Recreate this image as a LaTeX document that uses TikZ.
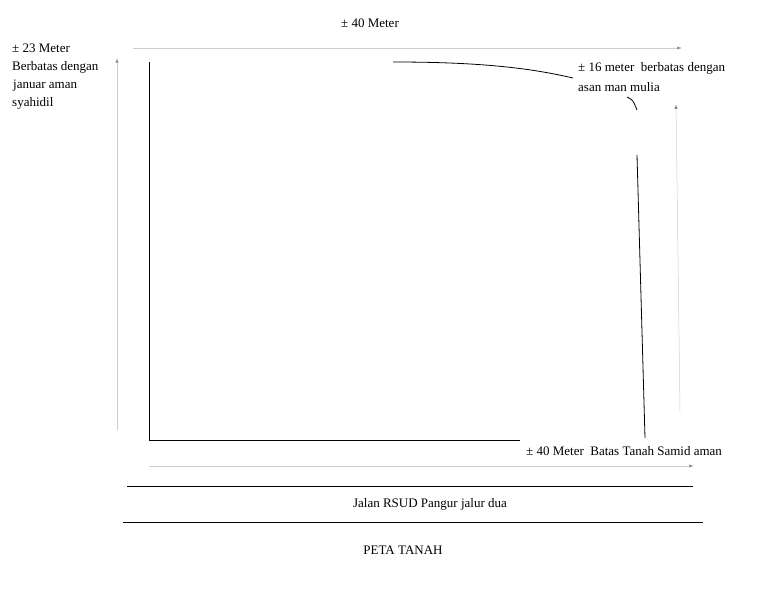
\documentclass[tikz,border=0pt]{standalone}
\usepackage{fontspec}
\setmainfont{Liberation Serif}
\begin{document}
\begin{tikzpicture}[x=1pt,y=-1pt,
  lbl/.style={inner sep=0pt,font=\fontsize{13}{15}\selectfont},
  garrow/.style={draw=black!20,line width=0.5pt,-{Latex[length=5pt,width=3.5pt,fill=black]}},
  bline/.style={draw=black,line width=0.8pt}]
\usetikzlibrary{arrows.meta}
\useasboundingbox (0,0) rectangle (768,594);
\node[lbl] (top) at (370,23) {± 40 Meter};
\node[lbl,anchor=west] (l1) at (12,48) {± 23 Meter};
\node[lbl,anchor=west] (l2) at (12,67) {Berbatas dengan};
\node[lbl,anchor=west] (l3) at (13,86) {januar aman};
\node[lbl,anchor=west] (l4) at (12,103) {syahidil};
\node[lbl,anchor=west] (r1) at (578,68) {± 16 meter\ \ berbatas dengan};
\node[lbl,anchor=west] (r2) at (578,87) {asan man mulia};
\node[lbl,anchor=west] (b1) at (526,451) {± 40 Meter\ \ Batas Tanah Samid aman};
\node[lbl] (jl) at (430,504) {Jalan RSUD Pangur jalur dua};
\node[lbl] (pt) at (403,550) {PETA TANAH};
\coordinate (ta) at (133,48); \coordinate (tb) at (682,48);
\coordinate (la) at (117,430); \coordinate (lb) at (117,58);
\coordinate (ra) at (680,412); \coordinate (rb) at (676,104);
\coordinate (ba) at (149,466); \coordinate (bb) at (694,466);
\draw[garrow] (ta) -- (tb);
\draw[garrow] (la) -- (lb);
\draw[garrow] (ra) -- (rb);
\draw[garrow] (ba) -- (bb);
\coordinate (m1) at (149,62); \coordinate (m2) at (149,440); \coordinate (m3) at (520,440);
\draw[bline] (m1) -- (m2) -- (m3);
\coordinate (c1) at (393,62); \coordinate (c2) at (573,78);
\draw[bline] (c1) .. controls (480,62) and (530,68) .. (c2);
\coordinate (s1) at (627,97); \coordinate (s2) at (637,110);
\draw[bline] (s1) .. controls (633,100) .. (s2);
\coordinate (v1) at (637,155); \coordinate (v2) at (645,438);
\draw[bline] (v1) -- (v2);
\coordinate (h1) at (127,486); \coordinate (h2) at (693,486);
\coordinate (h3) at (123,522); \coordinate (h4) at (703,522);
\draw[draw=black,line width=0.6pt] (h1) -- (h2);
\draw[draw=black,line width=0.6pt] (h3) -- (h4);
\end{tikzpicture}
\end{document}
